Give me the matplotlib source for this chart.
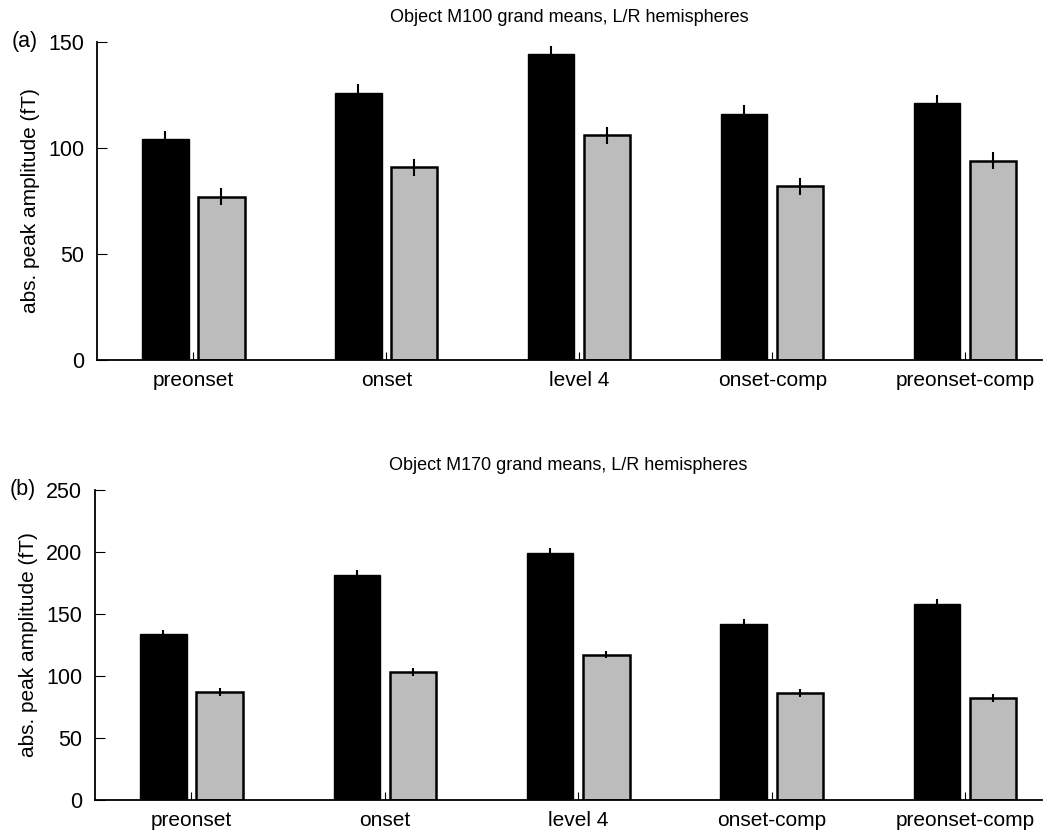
import matplotlib
matplotlib.use("Agg")
import matplotlib.pyplot as plt
import numpy as np

plt.rcParams["font.family"] = ["Liberation Sans", "DejaVu Sans"]

# conditions on x axis
conditions = ["preonset", "onset", "level 4", "onset-comp", "preonset-comp"]

# M100 (panel a), left / right hemisphere
m100_left = [104, 126, 144, 116, 121]
m100_right = [77, 91, 106, 82, 94]
m100_left_err = [4, 4, 4, 4, 4]
m100_right_err = [4, 4, 4, 4, 4]

# M170 (panel b)
m170_left = [134, 181, 199, 142, 158]
m170_right = [87, 103, 117, 86, 82]
m170_left_err = [3, 4, 4, 4, 4]
m170_right_err = [3, 3, 3, 3, 3]

titles = ["Object M100 grand means, L/R hemispheres",
          "Object M170 grand means, L/R hemispheres"]
panel_tags = ["(a)", "(b)"]


def draw_panel(ax, left, right, lerr, rerr, ymax, yticks, title, tag):
	x = np.arange(1, len(conditions) + 1)
	w = 0.24
	off = 0.145
	ax.bar(x - off, left, w, color="black", edgecolor="black", linewidth=1)
	ax.bar(x + off, right, w, color="#bcbcbc", edgecolor="black", linewidth=1.8)
	# error bars, vertical line only
	ax.errorbar(x - off, left, yerr=lerr, fmt="none", ecolor="black",
				elinewidth=1.5, capsize=0)
	ax.errorbar(x + off, right, yerr=rerr, fmt="none", ecolor="black",
				elinewidth=1.5, capsize=0)

	ax.set_xlim(0.5, 5.4)
	ax.set_ylim(0, ymax)
	ax.set_yticks(yticks)
	ax.set_xticks(x)
	ax.set_xticklabels(conditions, fontsize=15)
	ax.tick_params(axis="y", direction="in", length=7, labelsize=15.5, pad=9)
	ax.tick_params(axis="x", direction="in", length=6, pad=8)
	ax.spines["top"].set_visible(False)
	ax.spines["right"].set_visible(False)
	ax.spines["left"].set_linewidth(1.3)
	ax.spines["bottom"].set_linewidth(1.3)
	ax.set_ylabel("abs. peak amplitude (fT)", fontsize=15, labelpad=6)
	ax.set_title(title, fontsize=13, pad=14)
	ax.text(-0.09, 1.0, tag, transform=ax.transAxes, fontsize=15.5,
			ha="left", va="center")


fig = plt.figure(figsize=(10.53, 8.34), dpi=100)
ax1 = fig.add_axes([0.092, 0.568, 0.898, 0.382])
ax2 = fig.add_axes([0.090, 0.041, 0.900, 0.372])

draw_panel(ax1, m100_left, m100_right, m100_left_err, m100_right_err,
		   150, [0, 50, 100, 150], titles[0], panel_tags[0])
draw_panel(ax2, m170_left, m170_right, m170_left_err, m170_right_err,
		   250, [0, 50, 100, 150, 200, 250], titles[1], panel_tags[1])

plt.savefig("out.png", dpi=100)
